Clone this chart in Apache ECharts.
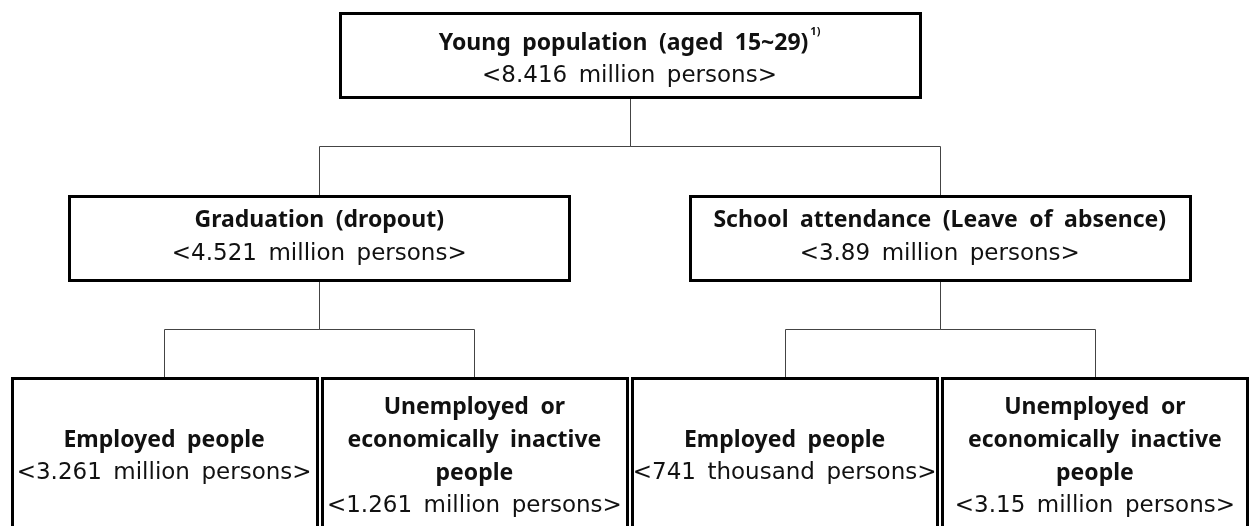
<!DOCTYPE html>
<html>
<head>
<meta charset="utf-8">
<script src="https://cdn.jsdelivr.net/npm/echarts@6/dist/echarts.min.js"></script>
<style>
  html, body { margin: 0; padding: 0; background: #fff; }
  #chart { width: 1250px; height: 526px; }
</style>
</head>
<body>
<div id="chart"></div>
<script>
// tree nodes, in order; parent index -1 = root
var titles = [
  ['Young population (aged 15~29)'],
  ['Graduation (dropout)'],
  ['School attendance (Leave of absence)'],
  ['Employed people'],
  ['Unemployed or', 'economically inactive', 'people'],
  ['Employed people'],
  ['Unemployed or', 'economically inactive', 'people']
];
var counts = [
  '<8.416 million persons>',
  '<4.521 million persons>',
  '<3.89 million persons>',
  '<3.261 million persons>',
  '<1.261 million persons>',
  '<741 thousand persons>',
  '<3.15 million persons>'
];
var notes = ['1)', '', '', '', '', '', ''];
var parents = [-1, 0, 0, 1, 1, 2, 2];

// box size per level (px)
var boxW = [580, 500, 305];
var boxH = [84, 84, 158];

// levels + leaf order -> x positions (parents sit over the middle of their children)
var level = [], kids = [];
parents.forEach(function (p, i) {
  level[i] = p < 0 ? 0 : level[p] + 1;
  kids[i] = [];
  if (p >= 0) kids[p].push(i);
});
var xPos = [], leafNo = 0;
function place(i) {
  if (!kids[i].length) { xPos[i] = leafNo++; return; }
  kids[i].forEach(place);
  var s = 0;
  kids[i].forEach(function (k) { s += xPos[k]; });
  xPos[i] = s / kids[i].length;
}
place(0);

var nodeData = parents.map(function (p, i) { return [xPos[i], level[i], i]; });
var linkData = [];
parents.forEach(function (p, i) {
  if (p >= 0) linkData.push([xPos[i], level[i], xPos[p], level[p]]);
});

// the source font has wide word gaps, use en spaces
function wide(s) { return s.replace(/ /g, '\u2002'); }

function label(i) {
  var t = titles[i];
  var s = '';
  t.forEach(function (line, k) {
    s += '{b|' + wide(line) + '}';
    if (k === t.length - 1 && notes[i]) s += '{sup|' + notes[i] + '}';
    s += '\n';
  });
  return s + '{r|' + wide(counts[i]) + '}';
}

var chart = echarts.init(document.getElementById('chart'));
chart.setOption({
  animation: false,
  grid: { left: 9, top: 13, width: 1245, height: 365 },
  xAxis: { type: 'value', min: -0.5, max: 3.5, show: false },
  yAxis: { type: 'value', min: 0, max: 2, inverse: true, show: false },
  series: [
    {
      type: 'custom',
      data: linkData,
      silent: true,
      renderItem: function (params, api) {
        var c = api.coord([api.value(0), api.value(1)]);
        var p = api.coord([api.value(2), api.value(3)]);
        var lv = api.value(3);
        var py = p[1] + boxH[lv];
        var midY = Math.round((py + c[1]) / 2) + 0.5;
        var cx = Math.round(c[0]) + 0.5, px = Math.round(p[0]) + 0.5;
        return {
          type: 'polyline',
          shape: { points: [[px, py], [px, midY], [cx, midY], [cx, c[1]]] },
          style: { stroke: '#444', lineWidth: 1, fill: null }
        };
      },
      z: 1
    },
    {
      type: 'custom',
      data: nodeData,
      silent: true,
      renderItem: function (params, api) {
        var c = api.coord([api.value(0), api.value(1)]);
        var lv = api.value(1);
        var i = api.value(2);
        var w = boxW[lv], h = boxH[lv];
        var x0 = Math.round(c[0] - w / 2) + 0.5, y0 = Math.round(c[1]) + 0.5;
        return {
          type: 'group',
          children: [
            {
              type: 'rect',
              shape: { x: x0, y: y0, width: w, height: h },
              style: { fill: '#fff', stroke: '#000', lineWidth: 3 }
            },
            {
              type: 'text',
              x: c[0],
              y: c[1] + h / 2 + (notes[i] ? 5 : 0),
              style: {
                text: label(i),
                align: 'center',
                verticalAlign: 'middle',
                fill: '#111',
                rich: {
                  b: { fontFamily: 'Noto Sans', fontSize: 23, fontWeight: 'bold', lineHeight: 33, fill: '#111' },
                  sup: { fontFamily: 'Noto Sans', fontSize: 11, fontWeight: 'bold', lineHeight: 12, verticalAlign: 'top', padding: [0, 0, 0, 2], fill: '#111' },
                  r: { fontFamily: 'DejaVu Sans', fontSize: 23, lineHeight: 34, fill: '#111' }
                }
              }
            }
          ]
        };
      },
      z: 2
    }
  ]
});
</script>
</body>
</html>
